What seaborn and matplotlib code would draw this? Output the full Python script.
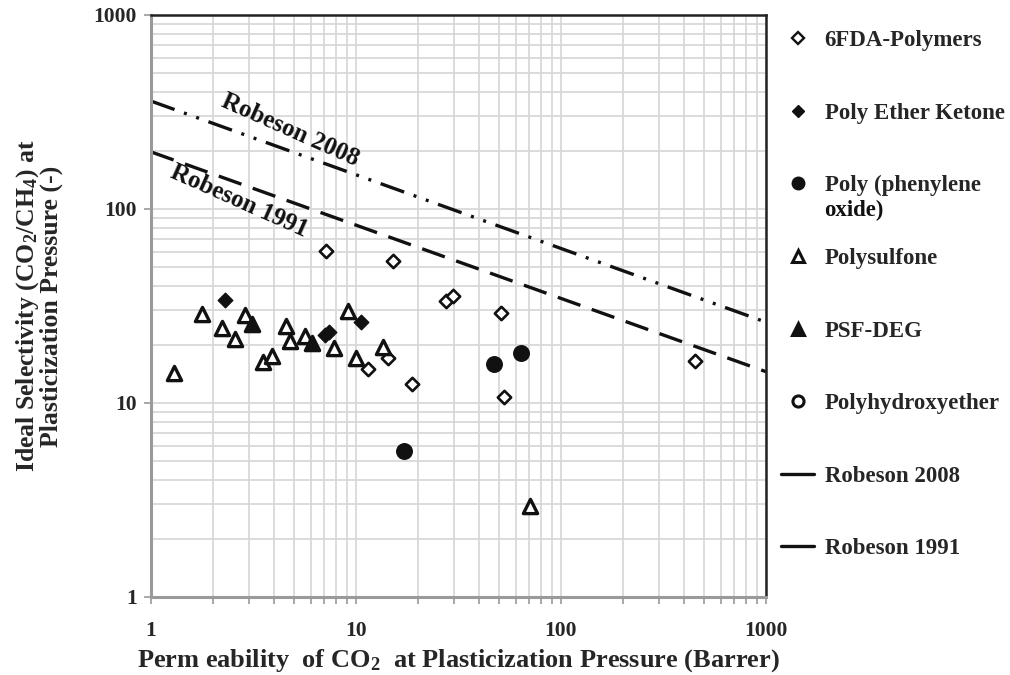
import matplotlib
matplotlib.use("Agg")
import matplotlib.pyplot as plt
import seaborn as sns
import numpy as np
from matplotlib.lines import Line2D
from matplotlib.ticker import LogLocator, NullFormatter, FixedLocator, FixedFormatter

# ---------------- data ----------------
fda_x = [7.15, 15.2, 27.5, 29.8, 50.7, 14.4, 11.4, 18.8, 52.6, 451]
fda_y = [60.8, 53.9, 33.6, 35.6, 29.2, 17.0, 15.0, 12.5, 10.8, 16.5]

pek_x = [2.29, 7.09, 7.36, 10.6]
pek_y = [34.0, 22.4, 23.3, 26.3]

ppo_x = [17.2, 47.2, 63.6]
ppo_y = [5.66, 15.8, 18.2]

psf_x = [1.29, 1.78, 2.21, 2.56, 2.86, 3.53, 3.91, 4.53, 4.79, 5.61, 7.78, 9.10, 10.0, 13.6, 70.4]
psf_y = [14.2, 28.7, 24.3, 21.3, 28.4, 16.3, 17.5, 24.9, 20.9, 22.2, 19.1, 29.8, 17.1, 19.5, 2.94]

psfdeg_x = [3.12, 6.11]
psfdeg_y = [25.5, 20.3]

phe_x = []
phe_y = []

rob2008_x = [1, 1000]
rob2008_y = [360, 26.1]
rob1991_x = [1, 1000]
rob1991_y = [197, 14.5]

legend_labels = ["6FDA-Polymers", "Poly Ether Ketone", "Poly (phenylene",
                 "Polysulfone", "PSF-DEG", "Polyhydroxyether", "Robeson 2008", "Robeson 1991"]
legend_extra = "oxide)"
tick_vals = [1, 10, 100, 1000]
tick_labels = ["1", "10", "100", "1000"]

# ---------------- style ----------------
sns.set_style("white")
plt.rcParams['font.family'] = ['Liberation Serif', 'DejaVu Serif']
plt.rcParams['font.weight'] = 'bold'
plt.rcParams['mathtext.fontset'] = 'custom'
plt.rcParams['mathtext.rm'] = 'Liberation Serif:bold'
plt.rcParams['mathtext.it'] = 'Liberation Serif:bold'
plt.rcParams['mathtext.bf'] = 'Liberation Serif:bold'
plt.rcParams['mathtext.default'] = 'rm'

INK = '#111111'
fig = plt.figure(figsize=(10.1, 6.75), dpi=100)
ax = fig.add_axes([151/1010, 1-597/675, (766-151)/1010, (597-15)/675])
ax.set_xscale('log')
ax.set_yscale('log')
ax.set_xlim(1, 1000)
ax.set_ylim(1, 1000)

# grid
ax.xaxis.set_minor_locator(LogLocator(base=10, subs=np.arange(2, 10)))
ax.yaxis.set_minor_locator(LogLocator(base=10, subs=np.arange(2, 10)))
ax.grid(True, which='both', color='#d6d6d6', lw=1.2)
ax.set_axisbelow(True)

# lines
sns.lineplot(x=rob2008_x, y=rob2008_y, ax=ax, color=INK, lw=2.4)
ax.lines[-1].set_linestyle((0, (7.5, 3.0, 0.9, 3.0, 0.9, 3.0)))
sns.lineplot(x=rob1991_x, y=rob1991_y, ax=ax, color=INK, lw=2.4)
ax.lines[-1].set_linestyle((0, (7.2, 3.6)))

# scatter
sns.scatterplot(x=fda_x, y=fda_y, ax=ax, marker='D', s=46, color='white',
                edgecolor=INK, linewidth=1.9, zorder=3)
sns.scatterplot(x=pek_x, y=pek_y, ax=ax, marker='D', s=55, color=INK,
                edgecolor=INK, linewidth=1.0, zorder=3)
sns.scatterplot(x=ppo_x, y=ppo_y, ax=ax, marker='o', s=125, color=INK,
                edgecolor=INK, linewidth=1.0, zorder=3)
sns.scatterplot(x=psf_x, y=psf_y, ax=ax, marker='^', s=105, color='white',
                edgecolor=INK, linewidth=2.4, zorder=3)
sns.scatterplot(x=psfdeg_x, y=psfdeg_y, ax=ax, marker='^', s=105, color=INK,
                edgecolor=INK, linewidth=2.4, zorder=3)
if len(phe_x):
    sns.scatterplot(x=phe_x, y=phe_y, ax=ax, marker='o', s=90, color='white',
                    edgecolor=INK, linewidth=2.0, zorder=3)

ax.set_xlim(1, 1000)
ax.set_ylim(1, 1000)

# annotations
ax.text(4.8, 255, "Robeson 2008", rotation=-24, rotation_mode='anchor',
        ha='center', va='center', fontsize=18, fontweight='bold', color=INK)
ax.text(2.68, 110, "Robeson 1991", rotation=-24, rotation_mode='anchor',
        ha='center', va='center', fontsize=18, fontweight='bold', color=INK)

# ticks
ax.xaxis.set_major_locator(FixedLocator(tick_vals))
ax.xaxis.set_major_formatter(FixedFormatter(tick_labels))
ax.yaxis.set_major_locator(FixedLocator(tick_vals))
ax.yaxis.set_major_formatter(FixedFormatter(tick_labels))
ax.xaxis.set_minor_formatter(NullFormatter())
ax.yaxis.set_minor_formatter(NullFormatter())
ax.tick_params(axis='x', which='both', bottom=True, direction='out', length=5,
               width=1.2, color='#999999', labelsize=15.5, pad=12)
ax.tick_params(axis='y', which='major', left=True, direction='out', length=5,
               width=1.2, color='#999999', labelsize=15.5, pad=5)
ax.tick_params(axis='y', which='minor', left=False)
for lab in ax.get_xticklabels() + ax.get_yticklabels():
    lab.set_fontweight('bold')

# spines
for side in ['left', 'bottom']:
    ax.spines[side].set_color('#9a9a9a')
    ax.spines[side].set_linewidth(2.2)
for side in ['top', 'right']:
    ax.spines[side].set_color('#222222')
    ax.spines[side].set_linewidth(1.8)
    ax.spines[side].set_visible(True)

ax.set_xlabel("Perm eability  of CO$_2$  at Plasticization Pressure (Barrer)",
              fontsize=19, fontweight='bold', labelpad=5)
ax.set_ylabel("Ideal Selectivity (CO$_2$/CH$_4$) at\nPlasticization Pressure (-)",
              fontsize=18.5, fontweight='bold', labelpad=22, linespacing=0.95)

# legend
handles = [
    Line2D([], [], ls='none', marker='D', ms=6, mfc='white', mec=INK, mew=1.7),
    Line2D([], [], ls='none', marker='D', ms=6.5, mfc=INK, mec=INK, mew=1.0),
    Line2D([], [], ls='none', marker='o', ms=9, mfc=INK, mec=INK, mew=1.0),
    Line2D([], [], ls='none', marker='^', ms=9, mfc='white', mec=INK, mew=2.2),
    Line2D([], [], ls='none', marker='^', ms=9, mfc=INK, mec=INK, mew=2.2),
    Line2D([], [], ls='none', marker='o', ms=8, mfc='white', mec=INK, mew=2.2),
    Line2D([], [], color=INK, lw=2.4),
    Line2D([], [], color=INK, lw=2.4),
]
leg = fig.legend(handles, legend_labels, loc='upper left',
                 bbox_to_anchor=(781/1010, 1-30/675),
                 frameon=False, prop={'weight': 'bold', 'size': 16.5},
                 labelspacing=2.25, handlelength=1.45, handletextpad=0.45,
                 borderpad=0, borderaxespad=0)

# second line of the two-line legend label
fig.canvas.draw()
r = fig.canvas.get_renderer()
t = leg.get_texts()[2]
bb = t.get_window_extent(r)
fig.text(bb.x0 / fig.bbox.width, (bb.y0 - 25) / fig.bbox.height, legend_extra,
         fontsize=16.5, fontweight='bold', ha='left', va='bottom', color=INK)

fig.savefig("out.png", dpi=100)
